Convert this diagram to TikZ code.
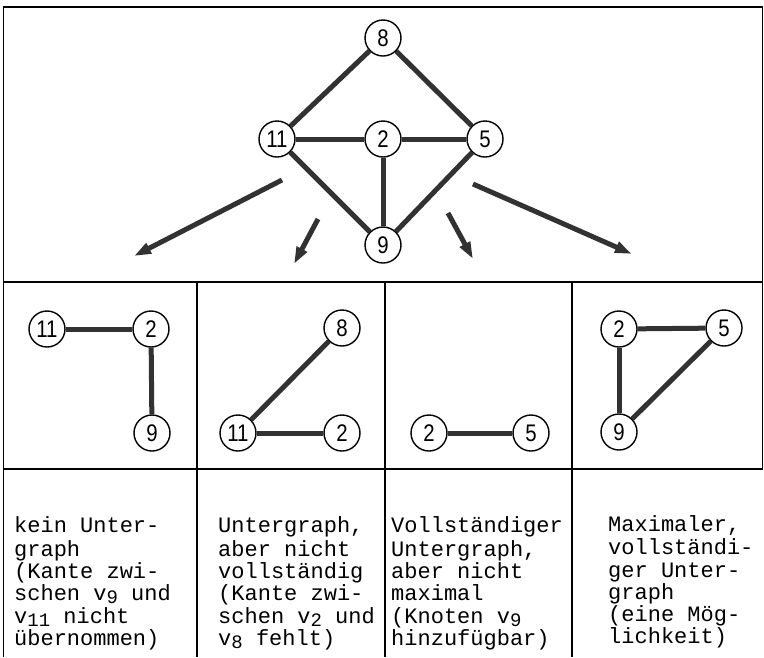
\documentclass[tikz,border=0pt]{standalone}
\usepackage{fontspec}
\setmainfont{Liberation Sans}
\newfontfamily\nodefont[FakeStretch=0.85]{Liberation Sans}
\newfontfamily\typefont{Liberation Mono}
\usetikzlibrary{arrows.meta}
\definecolor{edgegray}{RGB}{50,50,50}
\newcommand\lowsub[1]{\raisebox{-3pt}{\fontsize{19}{19}\selectfont #1}}
\begin{document}
\begin{tikzpicture}[x=1pt,y=-1pt,
  vtx/.style={circle,draw,line width=1.4pt,minimum size=36pt,inner sep=0pt,
    font=\nodefont\fontsize{24}{24}\selectfont,fill=white},
  edg/.style={draw=edgegray,line width=5pt},
  frame/.style={line width=1.8pt},
  bigarrow/.style={draw=edgegray,line width=5pt,-{Triangle[length=17pt,width=11pt]}},
  desc/.style={anchor=north west,align=left,inner sep=0pt,
    font=\typefont\fontsize{22}{22.3}\selectfont}]
\useasboundingbox (0,0) rectangle (764,657);

% frame
\draw[frame] (3.5,657) -- (3.5,7) -- (762.5,7) -- (762.5,469);
\draw[frame] (3.5,282) -- (762.5,282);
\draw[frame] (3.5,469) -- (762.5,469);
\draw[frame] (197,282) -- (197,657);
\draw[frame] (385,282) -- (385,657);
\draw[frame] (572,282) -- (572,657);

% top graph
\node[vtx] (t8) at (383,38) {8};
\node[vtx] (t11) at (277,139) {11};
\node[vtx] (t2) at (383,139) {2};
\node[vtx] (t5) at (485,139) {5};
\node[vtx] (t9) at (383,245) {9};
\draw[edg] (t8) -- (t11);
\draw[edg] (t8) -- (t5);
\draw[edg] (t11) -- (t2);
\draw[edg] (t2) -- (t5);
\draw[edg] (t11) -- (t9);
\draw[edg] (t2) -- (t9);
\draw[edg] (t5) -- (t9);

% arrows
\coordinate (a1s) at (282,180);
\coordinate (a1e) at (134,256);
\coordinate (a2s) at (318,219);
\coordinate (a2e) at (294,264);
\coordinate (a3s) at (448,213);
\coordinate (a3e) at (473,259);
\coordinate (a4s) at (473,184);
\coordinate (a4e) at (632,254);
\draw[bigarrow] (a1s) -- (a1e);
\draw[bigarrow] (a2s) -- (a2e);
\draw[bigarrow] (a3s) -- (a3e);
\draw[bigarrow] (a4s) -- (a4e);

% panel 1
\node[vtx] (p1n11) at (47,329) {11};
\node[vtx] (p1n2) at (151,329) {2};
\node[vtx] (p1n9) at (152,433) {9};
\draw[edg] (p1n11) -- (p1n2);
\draw[edg] (p1n2) -- (p1n9);

% panel 2
\node[vtx] (p2n8) at (342,328) {8};
\node[vtx] (p2n11) at (238,433) {11};
\node[vtx] (p2n2) at (342,433) {2};
\draw[edg] (p2n8) -- (p2n11);
\draw[edg] (p2n11) -- (p2n2);

% panel 3
\node[vtx] (p3n2) at (429,433) {2};
\node[vtx] (p3n5) at (531,433) {5};
\draw[edg] (p3n2) -- (p3n5);

% panel 4
\node[vtx] (p4n2) at (619,329) {2};
\node[vtx] (p4n5) at (724,328) {5};
\node[vtx] (p4n9) at (619,432) {9};
\draw[edg] (p4n2) -- (p4n5);
\draw[edg] (p4n2) -- (p4n9);
\draw[edg] (p4n5) -- (p4n9);

% descriptions
\node[desc] (d1) at (14,516.4) {\strut kein Unter-\\graph\\(Kante zwi-\\schen v\lowsub{9} und\\v\lowsub{11} nicht\\übernommen)};
\node[desc] (d2) at (218,516.4) {\strut Untergraph,\\aber nicht\\vollständig\\(Kante zwi-\\schen v\lowsub{2} und\\v\lowsub{8} fehlt)};
\node[desc] (d3) at (391,516.4) {\strut Vollständiger\\Untergraph,\\aber nicht\\maximal\\(Knoten v\lowsub{9}\\hinzufügbar)};
\node[desc] (d4) at (608,515) {\strut Maximaler,\\vollständi-\\ger Unter-\\graph\\(eine Mög-\\lichkeit)};
\end{tikzpicture}
\end{document}
